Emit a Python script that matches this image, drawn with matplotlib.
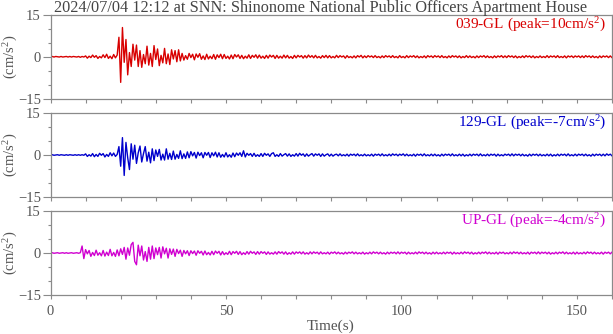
import numpy as np
import matplotlib
matplotlib.use("Agg")
import matplotlib.pyplot as plt
from matplotlib.ticker import MultipleLocator, FixedLocator

# ---------------- data ----------------
title = "2024/07/04 12:12 at SNN: Shinonome National Public Officers Apartment House"
channels = ["039-GL", "129-GL", "UP-GL"]
peak_values = [10, -7, -4]
line_colors = ["#d80000", "#0000cc", "#d000d0"]
sample_step = 0.5          # seconds between the read extremes
value_scale = 0.1          # values below are in 0.1 cm/s^2

acc_039 = [
    0, 1, -1, 1, 0, -1, 1, -1, 0, 1, -1, 1, -1, 1, 0, -1, 1, -2, 1, -1,
    3, -5, 2, -3, 6, -2, 4, -6, 1, -4, 7, -3, 9, -6, 2, -7, 8, -4, 6, 70,
    -92, 105, -20, 62, -65, 15, -35, 45, -12, 42, -35, 22, -38, 8, -25, 38, -30, 12, -35, 40,
    -10, 28, -32, 5, -22, 30, -25, 10, -28, 25, -8, 22, -18, 25, -15, 12, -12, 4, -9, 12,
    -3, 9, -11, 10, -2, 11, -9, 3, -10, 9, -8, 2, -7, 8, -9, 7, -3, 9, -7, 8,
    -6, 2, -8, 6, -7, 8, -1, 7, -6, 5, -7, 2, -5, 7, -6, 5, -2, 7, -5, 6,
    -5, 2, -6, 5, -5, 6, -1, 5, -6, 5, -5, 2, -5, 6, -4, 5, -5, 1, -6, 5,
    -4, 5, -1, 4, -5, 4, -4, 6, -2, 4, -4, 5, -4, 1, -5, 4, -3, 5, -4, 4,
    -4, 1, -4, 5, -3, 4, -1, 3, -5, 4, -3, 1, -4, 3, -4, 4, -1, 5, -4, 3,
    -3, 4, -1, 3, -3, 4, -3, 1, -4, 3, -3, 4, -1, 3, -3, 4, -3, 1, -4, 4,
    -3, 1, -4, 4, -3, 3, -1, 4, -3, 3, -4, 1, -3, 3, -4, 4, -1, 3, -3, 4,
    -1, 3, -3, 4, -3, 1, -4, 3, -3, 4, -1, 3, -3, 3, -4, 1, -3, 4, -3, 3,
    -3, 1, -4, 3, -3, 3, -1, 4, -3, 3, -3, 1, -4, 3, -3, 3, -1, 4, -3, 3,
    -3, 4, -1, 3, -3, 3, -4, 1, -3, 3, -3, 4, -1, 3, -3, 3, -4, 1, -3, 3,
    -3, 1, -3, 4, -3, 3, -1, 3, -3, 4, -3, 1, -3, 3, -4, 3, -1, 3, -3, 3,
    -1, 3, -3, 3, -3, 4, -1, 3, -3, 3, -3, 1, -4, 3, -3, 3, -1, 3, -3, 3,
    -3,
]

acc_129 = [
    0, 1, -1, 0, 1, -1, 1, 0, -1, 1, -1, 1, 0, -1, 1, -1, 1, -1, 1, -1,
    4, -5, 1, -4, 5, -6, 2, -5, 6, -1, 5, -7, 2, -5, 8, -3, 7, -5, 2, 30,
    -40, 62, -73, 45, -10, -52, 40, -15, 35, -30, 8, 32, -25, 5, 30, -22, 10, -28, 22, -20,
    18, -5, 20, -18, 3, -18, 22, -15, 6, -16, 14, -15, 2, -12, 15, -13, 4, -12, 11, -10,
    12, -3, 9, -11, 10, -2, 8, -10, 9, -1, 9, -9, 8, -3, 10, -7, 8, -8, 2, -7,
    8, -7, 1, -8, 7, -6, 7, -1, 8, -5, 15, -7, 6, -1, 5, -5, 6, -5, 1, -5,
    5, -5, 6, -1, 4, -5, 5, 8, -5, 1, -5, 5, -4, 1, 5, -4, 4, -5, 1, -4,
    5, -4, 6, -1, 4, -5, 4, -4, 1, 5, -4, 4, -1, 4, -5, 4, -4, 1, 4, -4,
    3, -4, 1, 3, -3, 4, -3, 1, -3, 3, -4, 3, -1, 3, -3, 4, -3, 1, -3, 3,
    -3, 1, -3, 3, -4, 3, -1, 3, -3, 4, -3, 1, -3, 3, -3, 4, -1, 3, -3, 3,
    -1, 4, -3, 3, -3, 1, -3, 3, -4, 3, -1, 3, -3, 4, -3, 1, -3, 3, -3, 3,
    -3, 1, -4, 3, -3, 3, -1, 3, -3, 4, -3, 1, -3, 3, -3, 3, -4, 1, -3, 3,
    -3, 3, -1, 3, -3, 4, -3, 1, -3, 3, -3, 3, -1, 3, -4, 3, -3, 1, -3, 3,
    -1, 3, -3, 4, -3, 3, -1, 3, -3, 3, -3, 1, -4, 3, -3, 3, -1, 3, -3, 3,
    -3, 1, -3, 3, -3, 3, -4, 1, -3, 3, -3, 3, -1, 3, -3, 4, -3, 1, -3, 3,
    -3, 3, -1, 3, -3, 3, -3, 1, -4, 3, -3, 3, -1, 3, -3, 3, -3, 4, -1, 3,
    -3,
]

acc_up = [
    0, 1, -1, 0, 1, -1, 0, 1, -1, 1, -1, 0, 1, -1, 0, 1, -1, 1, 25, -20,
    12, -3, 9, -12, 2, -9, 10, -8, 1, -10, 9, -11, 3, -9, 13, -10, 2, -12, 11, -10,
    15, -5, 20, -22, 18, -8, 30, 38, -30, -42, 28, -10, 25, -25, 5, -30, 20, -22, 25, -20,
    18, -6, 20, -18, 22, -3, 17, -18, 15, -5, 14, -12, 13, -2, 10, -12, 9, -3, 8, -9,
    8, -2, 7, -8, 8, -1, 6, -7, 7, -6, 2, -7, 6, -6, 7, -1, 6, -7, 5, -6,
    1, -5, 6, -6, 5, -1, 6, -5, 5, -6, 1, -5, 5, -4, 6, -1, 4, -5, 5, -4,
    5, -1, 4, -5, 4, -4, 1, -4, 4, -4, 5, -1, 4, -4, 4, -5, 1, -4, 4, -4,
    4, -1, 4, -3, 4, -4, 1, -4, 4, -3, 4, -1, 3, -4, 4, -3, 1, -3, 3, -4,
    3, -1, 4, -3, 3, -3, 1, -4, 3, -3, 3, -1, 4, -3, 3, -3, 1, -3, 3, -4,
    1, -3, 3, -3, 4, -1, 3, -3, 3, -3, 1, -4, 3, -3, 3, -1, 3, -3, 4, -3,
    3, -1, 3, -4, 3, -3, 1, -3, 3, -3, 4, -1, 3, -3, 3, -3, 1, -4, 3, -3,
    3, -3, 1, -3, 3, -3, 3, -1, 3, -4, 3, -3, 1, -3, 3, -3, 4, -1, 3, -3,
    3, -4, 1, -3, 3, -3, 3, -1, 4, -3, 3, -3, 1, -3, 3, -4, 3, -1, 3, -3,
    1, -3, 3, -3, 4, -1, 3, -3, 3, -3, 1, -3, 3, -4, 3, -1, 3, -3, 4, -3,
    3, -1, 3, -3, 3, -4, 1, -3, 3, -3, 3, -1, 4, -3, 3, -3, 1, -3, 3, -4,
    3, -3, 1, -3, 3, -3, 4, -1, 3, -3, 3, -3, 1, -3, 3, -4, 3, -1, 3, -3,
    3,
]

y_ticks = [-15, 0, 15]
x_ticks = [0, 50, 100, 150]
x_limits = (0, 160)
y_limits = (-15, 15)
y_label = "(cm/s$^2$)"
x_label = "Time(s)"

# ---------------- styling ----------------
plt.rcParams["font.family"] = ["Liberation Serif", "DejaVu Serif"]
plt.rcParams["mathtext.fontset"] = "custom"
plt.rcParams["mathtext.rm"] = "Liberation Serif"
plt.rcParams["mathtext.it"] = "Liberation Serif:italic"

W, H = 613, 334
fig = plt.figure(figsize=(W / 100, H / 100), dpi=100)

spine_c = "#8a8a8a"
text_c = "#555555"
left, right = 50.5, 612.0
panels_px = [(15, 98.5), (113, 197), (211, 295)]

series = [acc_039, acc_129, acc_up]
for i, ((top, bot), vals, ch, pk, col) in enumerate(
        zip(panels_px, series, channels, peak_values, line_colors)):
    ax = fig.add_axes([left / W, 1 - bot / H, (right - left) / W, (bot - top) / H])
    v = np.asarray(vals, dtype=float) * value_scale
    t = np.arange(len(v)) * sample_step
    ax.plot(t, v, color=col, lw=1.0)
    ax.set_xlim(*x_limits)
    ax.set_ylim(*y_limits)
    for s in ax.spines.values():
        s.set_color(spine_c)
        s.set_linewidth(0.9)
    ax.yaxis.set_major_locator(FixedLocator(y_ticks))
    ax.yaxis.set_minor_locator(MultipleLocator(5))
    ax.xaxis.set_major_locator(FixedLocator(x_ticks))
    ax.xaxis.set_minor_locator(MultipleLocator(10))
    ax.tick_params(axis="y", which="major", length=5.5, width=0.8, color=spine_c,
                   labelsize=10.5, labelcolor=text_c, pad=1.5)
    ax.tick_params(axis="y", which="minor", length=2.5, width=0.8, color=spine_c)
    ax.tick_params(axis="x", which="both", length=3, width=0.8, color=spine_c,
                   labelsize=10.5, labelcolor=text_c, pad=4.5)
    if i < 2:
        ax.tick_params(axis="x", labelbottom=False)
    ax.text(0.99, 0.885, f"{ch} (peak={pk}cm/s$^2$)", transform=ax.transAxes,
            ha="right", va="center", color=col, fontsize=11)
    fig.text(11 / W, 1 - ((top + bot) / 2) / H, y_label, rotation=90,
             ha="center", va="center", fontsize=10.5, color=text_c)

fig.text(331 / W, 1 - 326 / H, x_label, ha="center", va="center",
         fontsize=11, color=text_c)
fig.text(321 / W, 1 - 7.5 / H, title, ha="center", va="center",
         fontsize=11.7, color="#444444")

fig.savefig("out.png", dpi=100)
